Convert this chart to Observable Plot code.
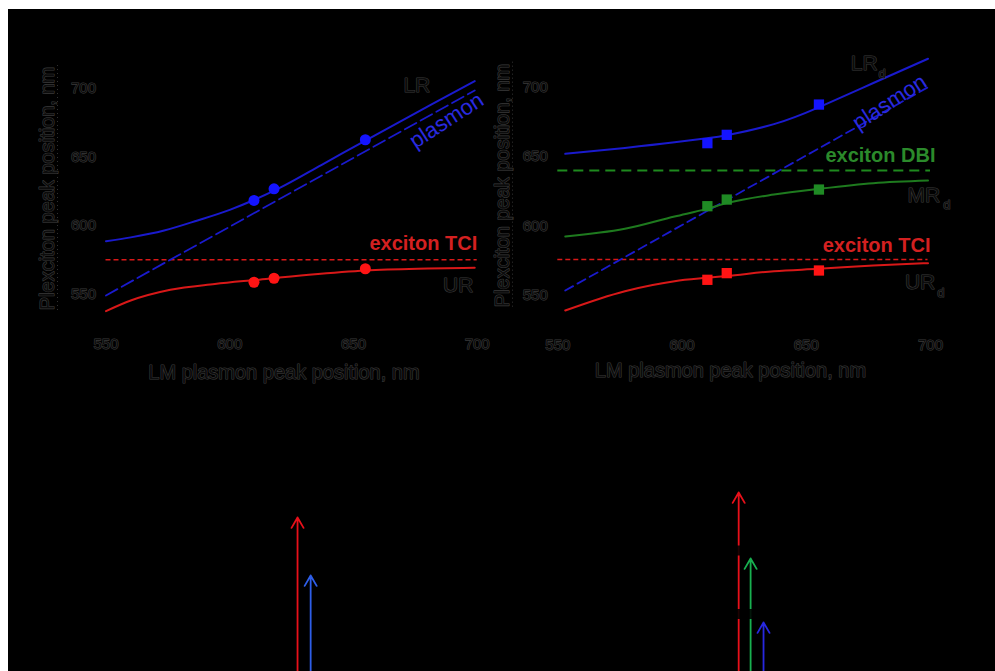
<!DOCTYPE html>
<html>
<head>
<meta charset="utf-8">
<script src="https://cdn.jsdelivr.net/npm/d3@7"></script>
<script src="https://cdn.jsdelivr.net/npm/@observablehq/plot@0.6"></script>
<style>
  html, body { margin: 0; padding: 0; background: #fff; }
  #page { position: relative; width: 995px; height: 671px; background: #fff; overflow: hidden; }
  #backdrop { position: absolute; left: 8px; top: 9px; width: 987px; height: 662px; background: #000; }
  .panel { position: absolute; }
  .panel svg { overflow: visible; display: block; }
  .panel [aria-label="x-axis tick label"], .panel [aria-label="y-axis tick label"] {
    fill: #0c0c0c; stroke: #3a3a3a; stroke-width: 1.1px; paint-order: stroke;
  }
</style>
</head>
<body>
<div id="page">
  <div id="backdrop"></div>
  <div id="tl" class="panel" style="left:0px;top:0px;width:490px;height:390px"></div>
  <div id="tr" class="panel" style="left:490px;top:0px;width:505px;height:390px"></div>
  <div id="bl" class="panel" style="left:0px;top:380px;width:490px;height:291px"></div>
  <div id="br" class="panel" style="left:490px;top:380px;width:505px;height:291px"></div>
</div>
<script>
// ---------- data ----------
const xTicks = [550, 600, 650, 700];
const yTicks = [550, 600, 650, 700];
const xTitle = "LM plasmon peak position, nm";
const yTitle = "Plexciton peak position, nm";

// Left panel (TCI)
const lmLeft      = [609.8, 617.9, 654.8];
const lrLeftPts   = [618.3, 626.8, 662.4];
const urLeftPts   = [558.9, 561.8, 568.7];
const lrLeftCurveX = [550, 560, 573.5, 587, 600, 610, 620, 637, 655, 681, 699];
const lrLeftCurveY = [588.7, 591.5, 596.5, 603.8, 611.5, 618.8, 627.2, 644.0, 662.0, 687.5, 705.0];
const urLeftCurveX = [550, 560, 576, 594, 610, 632, 655, 680, 699];
const urLeftCurveY = [537.9, 545.6, 553.4, 557.6, 560.5, 564.3, 567.4, 568.8, 569.4];
const plasmonLeftX = [550, 699];
const plasmonLeftY = [549.3, 698.2];
const tciLeft = 575.2;

// Right panel (TCI + DBI)
const lmRight     = [610.2, 618.0, 655.1];
const lrRightPts  = [659.7, 665.7, 687.5];
const mrRightPts  = [614.3, 619.1, 626.3];
const urRightPts  = [561.3, 566.1, 568.0];
const curveRightX = [553, 577, 597, 610, 618, 637, 655, 677, 699];
const lrRightY    = [652.0, 656.3, 660.3, 663.3, 665.4, 673.4, 685.5, 703.0, 720.5];
const mrRightY    = [592.5, 598.0, 606.9, 612.4, 616.5, 622.7, 626.8, 630.9, 632.8];
const urRightY    = [539.2, 553.1, 560.3, 562.7, 564.0, 567.5, 569.2, 571.6, 573.3];
const plasmonRightX = [553, 699];
const plasmonRightY = [553.6, 700];
const tciRight = 575.9;
const dbiRight = 640.0;

// Lower energy diagrams (relative energy, arbitrary units)
const arrowsLeftName  = ["exciton TCI", "plasmon"];
const arrowsLeftPos   = [627.4, 632.7];
const arrowsLeftTop   = [1.54, 0.96];
const arrowsRightName = ["exciton TCI", "exciton DBI", "plasmon"];
const arrowsRightPos  = [622.8, 627.6, 632.8];
const arrowsRightTop  = [1.79, 1.13, 0.49];
const levelsRight     = [1.21, 0.575];

// ---------- helpers ----------
const zip = (xs, ys) => xs.map((x, i) => ({x, y: ys[i]}));
const FONT = "'Liberation Sans', Arial, Helvetica, sans-serif";
const gray = {fill: "#0c0c0c", stroke: "#3a3a3a", strokeWidth: 1.1};
const RED_L = "#d81818", BLUE_L = "#1a1acd", GREEN_L = "#1e7a1e";

function common(w, ml, mr, mt, mb) {
  return {
    width: w, height: 390,
    marginLeft: ml, marginRight: mr, marginTop: mt, marginBottom: mb,
    x: {domain: [550, 700]},
    y: {domain: [550, 700]},
    style: {background: "transparent", fontFamily: FONT, fontSize: "15px", color: "#101010"}
  };
}

function axes(titleX, titleY, dxTitle, dyTitle) {
  return [
    Plot.axisX({ticks: xTicks, tickSize: 0, tickPadding: 44, label: null}),
    Plot.axisY({ticks: yTicks, tickSize: 0, tickPadding: 10, label: null}),
    Plot.text([xTitle], {x: titleX, frameAnchor: "bottom", dy: dyTitle, textAnchor: "middle", lineAnchor: "middle", fontSize: 20, ...gray}),
    Plot.text([yTitle], {y: titleY, frameAnchor: "left", dx: dxTitle, rotate: -90, textAnchor: "middle", lineAnchor: "middle", fontSize: 20, ...gray})
  ];
}

// ---------- top-left panel ----------
const ptsLeft = lmLeft.map((x, i) => ({x, lr: lrLeftPts[i], ur: urLeftPts[i]}));
const left = Plot.plot({
  ...common(490, 105.5, 13.3, 87.5, 96),
  marks: [
    ...axes(621.9, 627, -58, 77.7),
    Plot.ruleX([550], {dx: -48.5, y1: 538.4, y2: 716.3, stroke: "#333", strokeDasharray: "1,3", strokeWidth: 1}),
    Plot.ruleY([tciLeft], {x1: 550, x2: 700, stroke: RED_L, strokeWidth: 1.6, strokeDasharray: "5,3"}),
    Plot.line(zip(plasmonLeftX, plasmonLeftY), {x: "x", y: "y", stroke: BLUE_L, strokeWidth: 1.8, strokeDasharray: "13,5"}),
    Plot.line(zip(lrLeftCurveX, lrLeftCurveY), {x: "x", y: "y", stroke: BLUE_L, strokeWidth: 2, curve: "monotone-x"}),
    Plot.line(zip(urLeftCurveX, urLeftCurveY), {x: "x", y: "y", stroke: RED_L, strokeWidth: 2, curve: "monotone-x"}),
    Plot.dot(ptsLeft, {x: "x", y: "lr", r: 5.5, fill: "#1414ff", stroke: "none"}),
    Plot.dot(ptsLeft, {x: "x", y: "ur", r: 5.5, fill: "#ff1414", stroke: "none"}),
    Plot.text(["exciton TCI"], {x: 700, y: 586.8, textAnchor: "end", fontSize: 20, fontWeight: "bold", fill: "#d42020"}),
    Plot.text(["plasmon"], {x: 687.6, y: 676.4, rotate: -33, fontSize: 22, fill: "#2a2ae0"}),
    Plot.text(["LR"], {x: 675.6, y: 701.8, fontSize: 21, ...gray}),
    Plot.text(["UR"], {x: 692.3, y: 556.5, fontSize: 21, ...gray})
  ]
});
document.getElementById("tl").appendChild(left);

// ---------- top-right panel ----------
const ptsRight = lmRight.map((x, i) => ({x, lr: lrRightPts[i], mr: mrRightPts[i], ur: urRightPts[i]}));
const sq = {symbol: "square", r: 5.8, stroke: "none"};
const right = Plot.plot({
  ...common(505, 67.3, 65, 86.7, 95),
  marks: [
    ...axes(619.5, 629.2, -55, 75),
    Plot.ruleX([550], {dx: -45.3, y1: 541.6, y2: 718, stroke: "#333", strokeDasharray: "1,3", strokeWidth: 1}),
    Plot.ruleY([dbiRight], {x1: 550, x2: 700, stroke: "#1e8a1e", strokeWidth: 1.8, strokeDasharray: "10,6"}),
    Plot.ruleY([tciRight], {x1: 550, x2: 699, stroke: RED_L, strokeWidth: 1.6, strokeDasharray: "5,3"}),
    Plot.line(zip(plasmonRightX, plasmonRightY), {x: "x", y: "y", stroke: BLUE_L, strokeWidth: 1.8, strokeDasharray: "9,5"}),
    Plot.line(zip(curveRightX, lrRightY), {x: "x", y: "y", stroke: BLUE_L, strokeWidth: 2, curve: "natural"}),
    Plot.line(zip(curveRightX, mrRightY), {x: "x", y: "y", stroke: GREEN_L, strokeWidth: 2, curve: "monotone-x"}),
    Plot.line(zip(curveRightX, urRightY), {x: "x", y: "y", stroke: RED_L, strokeWidth: 2, curve: "monotone-x"}),
    Plot.dot(ptsRight, {x: "x", y: "lr", fill: "#1414ff", ...sq}),
    Plot.dot(ptsRight, {x: "x", y: "mr", fill: "#1f8a24", ...sq}),
    Plot.dot(ptsRight, {x: "x", y: "ur", fill: "#ff1414", ...sq}),
    Plot.text(["exciton DBI"], {x: 702, y: 650.8, textAnchor: "end", fontSize: 20, fontWeight: "bold", fill: "#2b8a2b"}),
    Plot.text(["exciton TCI"], {x: 700, y: 586, textAnchor: "end", fontSize: 20, fontWeight: "bold", fill: "#d42020"}),
    Plot.text(["plasmon"], {x: 683.5, y: 689.2, rotate: -33, fontSize: 22, fill: "#2a2ae0"}),
    Plot.text(["LR"], {x: 678.7, y: 717.4, textAnchor: "end", fontSize: 21, ...gray}),
    Plot.text(["d"], {x: 678.7, y: 717.4, dx: 1, dy: 11, textAnchor: "start", fontSize: 13, ...gray}),
    Plot.text(["MR"], {x: 703.9, y: 622.2, textAnchor: "end", fontSize: 21, ...gray}),
    Plot.text(["d"], {x: 703.9, y: 622.2, dx: 3, dy: 10, textAnchor: "start", fontSize: 13, ...gray}),
    Plot.text(["UR"], {x: 701.9, y: 559.7, textAnchor: "end", fontSize: 21, ...gray}),
    Plot.text(["d"], {x: 701.9, y: 559.7, dx: 2, dy: 11, textAnchor: "start", fontSize: 13, ...gray})
  ]
});
document.getElementById("tr").appendChild(right);

// ---------- lower energy diagrams ----------
function lower(w, ml, mr, names, pos, tops, colors, levels) {
  const data = names.map((name, i) => ({name, x: pos[i], top: tops[i]}));
  return Plot.plot({
    width: w, height: 291,
    marginLeft: ml, marginRight: mr, marginTop: 0, marginBottom: 0,
    x: {domain: [550, 700], axis: null},
    y: {domain: [0, 2.91], axis: null},
    color: {domain: names, range: colors},
    style: {background: "transparent", fontFamily: FONT},
    marks: [
      Plot.arrow(data, {x1: "x", x2: "x", y1: 0, y2: "top", stroke: "name", strokeWidth: 1.8, headLength: 10, headAngle: 60}),
      Plot.ruleY(levels, {stroke: "#000", strokeWidth: 10, strokeOpacity: 0.88})
    ]
  });
}
document.getElementById("bl").appendChild(
  lower(490, 105.5, 13.3, arrowsLeftName, arrowsLeftPos, arrowsLeftTop, ["#e8101a", "#2e5ee8"], []));
document.getElementById("br").appendChild(
  lower(505, 67.3, 65, arrowsRightName, arrowsRightPos, arrowsRightTop, ["#e8101a", "#18b050", "#2828e0"], levelsRight));
</script>
</body>
</html>
